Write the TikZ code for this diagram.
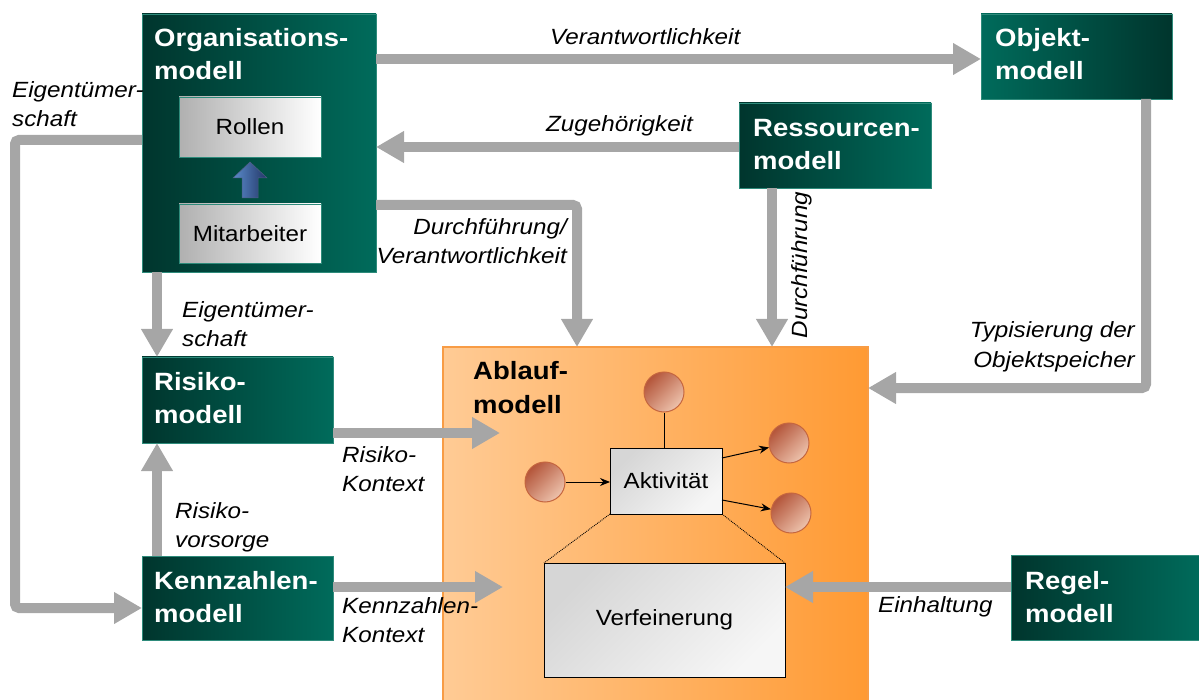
\documentclass[tikz,border=0pt]{standalone}
\usepackage{fontspec}
\setmainfont{Liberation Sans}[FakeStretch=1.1]
\usetikzlibrary{arrows.meta,calc}
\definecolor{gdark}{HTML}{00352D}
\definecolor{glight}{HTML}{006B5B}
\definecolor{gborder}{HTML}{2E8B7B}
\definecolor{agray}{HTML}{A6A6A6}
\definecolor{olight}{HTML}{FFCB95}
\definecolor{odark}{HTML}{FF9A33}
\definecolor{oborder}{HTML}{F89C45}
\definecolor{cdark}{HTML}{B4553A}
\definecolor{clight}{HTML}{EDC3AD}
\definecolor{cborder}{HTML}{C5663F}
\definecolor{blA}{HTML}{5A8BCB}
\definecolor{blB}{HTML}{233667}
\definecolor{wgray}{HTML}{B0B0B0}
\definecolor{agA}{HTML}{D6D6D6}
\definecolor{agB}{HTML}{F6F6F6}
\newcommand\ttlf{\fontsize{25}{33}\selectfont\bfseries}
\newcommand\lblf{\fontsize{22}{29}\selectfont\itshape}
\newcommand\inrf{\fontsize{22}{26}\selectfont}
\newcommand\twol[2]{\begin{tabular}[t]{@{}l@{}}#1\\#2\end{tabular}}
\newcommand\twor[2]{\begin{tabular}[t]{@{}r@{}}#1\\#2\end{tabular}}
\begin{document}
\begin{tikzpicture}[x=1pt,y=-1pt,
  bx/.style={anchor=north west, inner sep=0pt, outer sep=0pt},
  gbox/.style={bx, draw=gborder, line width=0.8pt, left color=gdark, right color=glight},
  gboxr/.style={bx, draw=gborder, line width=0.8pt, left color=glight, right color=gdark},
  ttl/.style={anchor=base west, inner sep=0pt, text=white, font=\ttlf},
  lbl/.style={anchor=base west, inner sep=0pt, font=\lblf},
  lblr/.style={anchor=base east, inner sep=0pt, font=\lblf},
  garrow/.style={draw=agray, line width=10pt, rounded corners=4pt, -{Triangle[width=30pt,length=28pt]}},
  wbox/.style={bx, draw=gborder, line width=0.8pt, left color=wgray, right color=white, font=\inrf},
  actbox/.style={bx, draw=black, line width=0.9pt, top color=agA, bottom color=agB, shading angle=45, font=\inrf},
  ball/.style={circle, minimum size=40pt, inner sep=0pt, draw=cborder, line width=1pt, top color=cdark, bottom color=clight, shading angle=45},
  blkarrow/.style={draw=black, line width=1pt, -{Stealth[length=10pt,width=8pt]}}
]
\useasboundingbox (0,0) rectangle (1199,700);

% Ablaufmodell
\node[bx, draw=oborder, line width=1.5pt, left color=olight, right color=odark, minimum width=425pt, minimum height=358pt] (abl) at (443,347) {};
\node[anchor=base west, inner sep=0pt, font=\ttlf] at ($(abl.north west)+(30,33)$) {\twol{Ablauf-}{modell}};
\node[actbox, minimum width=112pt, minimum height=66pt] (akt) at (610,448) {Aktivität};
\node[actbox, minimum width=241pt, minimum height=114pt] (ver) at (544,563) {Verfeinerung};
\node[ball] (c1) at (664,392) {};
\node[ball] (c2) at (545,482) {};
\node[ball] (c3) at (789,443) {};
\node[ball] (c4) at (791,513) {};
\draw[black, line width=1pt] (c1.south) -- (c1.south |- akt.north);
\draw[blkarrow] (c2.east) -- (c2.east -| akt.west);
\draw[blkarrow] (akt.east |- 0,458) -- (c3);
\draw[blkarrow] (akt.east |- 0,500) -- (c4);
\draw[densely dotted, line width=0.9pt] (akt.south west) -- (ver.north west);
\draw[densely dotted, line width=0.9pt] (akt.south east) -- (ver.north east);

% green boxes
\node[gbox, minimum width=234pt, minimum height=258pt] (org) at (142,14) {};
\node[ttl] at ($(org.north west)+(12,33)$) {\twol{Organisations-}{modell}};
\node[wbox, minimum width=142pt, minimum height=60pt] (rol) at (179,97) {Rollen};
\node[wbox, minimum width=142pt, minimum height=59pt] (mit) at (179,204) {Mitarbeiter};
\coordinate (bm) at ($(rol.south)!0.5!(mit.north)$);
\shade[left color=blA, right color=blB, draw=blB!80, line width=0.5pt]
  ($(bm)+(-8,17.5)$) -- ($(bm)+(-8,-2.5)$) -- ($(bm)+(-17,-2.5)$) -- ($(bm)+(0,-18.5)$)
  -- ($(bm)+(17,-2.5)$) -- ($(bm)+(8,-2.5)$) -- ($(bm)+(8,17.5)$) -- cycle;

\node[gboxr, minimum width=191pt, minimum height=85pt] (obj) at (981,14) {};
\node[ttl] at ($(obj.north west)+(14,33)$) {\twol{Objekt-}{modell}};
\node[gbox, minimum width=192pt, minimum height=85pt] (res) at (739,103) {};
\node[ttl] at ($(res.north west)+(14,34)$) {\twol{Ressourcen-}{modell}};
\node[gbox, minimum width=191pt, minimum height=86pt] (ris) at (142,357) {};
\node[ttl] at ($(ris.north west)+(12,33)$) {\twol{Risiko-}{modell}};
\node[gbox, minimum width=191pt, minimum height=84pt] (ken) at (142,556) {};
\node[ttl] at ($(ken.north west)+(12,33)$) {\twol{Kennzahlen-}{modell}};
\node[gbox, minimum width=190pt, minimum height=85pt] (reg) at (1011,555) {};
\node[ttl] at ($(reg.north west)+(14,34)$) {\twol{Regel-}{modell}};

% gray connectors
\draw[garrow] (org.east |- 0,59) -- (obj.west |- 0,59);
\draw[garrow] (res.west |- 0,147) -- (org.east |- 0,147);
\draw[garrow] (org.east |- 0,205) -| (abl.north -| 577,0);
\draw[garrow] (res.south -| 772,0) -- (abl.north -| 772,0);
\draw[garrow] (obj.south -| 1146,0) |- (abl.east |- 0,388);
\draw[garrow] (org.west |- 0,140) -| (15,400) |- (ken.west |- 0,608);
\draw[garrow] (org.south -| 157,0) -- (ris.north -| 157,0);
\draw[garrow] (ken.north -| 157,0) -- (ris.south -| 157,0);
\draw[garrow] (ris.east |- 0,433) -- (500,433);
\draw[garrow] (ken.east |- 0,587) -- (503,587);
\draw[garrow] (reg.west |- 0,587) -- (ver.east |- 0,587);

% labels
\node[lbl] at (550,45) {Verantwortlichkeit};
\node[lbl] at (546,132) {Zugehörigkeit};
\node[lblr] at (567,235) {\twor{Durchführung/}{Verantwortlichkeit}};
\node[font=\lblf, rotate=90, anchor=base, inner sep=0pt] at (807,265) {Durchführung};
\node[lbl] at (12,98) {\twol{Eigentümer-}{schaft}};
\node[lbl] at (182,318) {\twol{Eigentümer-}{schaft}};
\node[lbl] at (175,518) {\twol{Risiko-}{vorsorge}};
\node[lbl] at (342,462) {\twol{Risiko-}{Kontext}};
\node[lbl] at (342,613) {\twol{Kennzahlen-}{Kontext}};
\node[lblr] at (1135,338) {\twor{Typisierung der}{Objektspeicher}};
\node[lbl] at (878,612) {Einhaltung};
\end{tikzpicture}
\end{document}
